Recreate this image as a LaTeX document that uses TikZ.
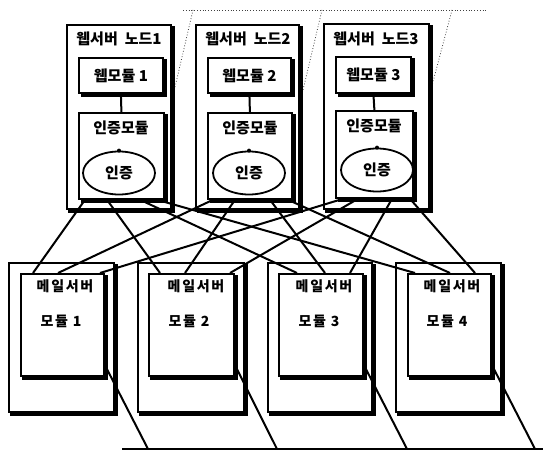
\documentclass[tikz,border=0pt]{standalone}
\usepackage{fontspec}
\newfontfamily\kr{Noto Sans CJK KR}
\newfontfamily\krs{Noto Sans CJK KR}[LetterSpace=12]
\usetikzlibrary{calc,shapes.geometric}
\newcommand{\boxshade}[2]{%
  \draw[line width=#2, line cap=rect] ($(#1.north east)+(1.5,4)$) -- ($(#1.south east)+(1.5,1.5)$) -- ($(#1.south west)+(4,1.5)$);}
\begin{document}
\begin{tikzpicture}[x=1pt,y=-1pt,
  box/.style={draw, line width=1.8pt, fill=white, rectangle, anchor=north west, inner sep=0pt},
  ttl/.style={font=\kr\bfseries\fontsize{15}{15}\selectfont, inner sep=0pt},
  lbl/.style={font=\kr\bfseries\fontsize{15}{15}\selectfont, inner sep=0pt},
  mlbl/.style={font=\krs\bfseries\fontsize{14}{14}\selectfont, inner sep=0pt},
  oval/.style={draw, ellipse, line width=1.8pt, fill=white, minimum width=72pt, minimum height=43pt, inner sep=0pt},
  link/.style={line width=2pt},
  dots/.style={dotted, line width=0.8pt, black!75},
  pin/.style={circle, fill=black, inner sep=0pt, minimum size=4pt}
]
\useasboundingbox (0,0) rectangle (543,454);
\fill[white] (0,0) rectangle (543,454);

% dotted perspective lines
\coordinate (dl) at (183,10);
\coordinate (dr) at (487,10);
\coordinate (d1t) at (193,10); \coordinate (d1b) at (165,130);
\coordinate (d2t) at (322,10); \coordinate (d2b) at (294,128);
\coordinate (d3t) at (452,10); \coordinate (d3b) at (421,127);
\draw[dots] (dl) -- (dr);
\draw[dots] (d1t) -- (d1b);
\draw[dots] (d2t) -- (d2b);
\draw[dots] (d3t) -- (d3b);

% web server nodes
\node[box, minimum width=104pt, minimum height=184pt] (n1) at (66,24) {};
\node[box, minimum width=103pt, minimum height=184pt] (n2) at (195,24) {};
\node[box, minimum width=105pt, minimum height=185pt] (n3) at (323,23) {};
\boxshade{n1}{4pt}\boxshade{n2}{4pt}\boxshade{n3}{4pt}

\node[ttl] (t1) at (119,39) {웹서버\hspace{7pt}노드1};
\node[ttl] (t2) at (248,39) {웹서버\hspace{7pt}노드2};
\node[ttl] (t3) at (376,39) {웹서버\hspace{7pt}노드3};

\node[box, minimum width=84pt, minimum height=35pt] (w1) at (78,57) {};
\node[box, minimum width=83pt, minimum height=35pt] (w2) at (207,57) {};
\node[box, minimum width=75pt, minimum height=36pt] (w3) at (335,56) {};
\boxshade{w1}{3pt}\boxshade{w2}{3pt}\boxshade{w3}{3pt}
\node[lbl] (wl1) at (w1.center) {웹모듈 1};
\node[lbl] (wl2) at (w2.center) {웹모듈 2};
\node[lbl] (wl3) at (w3.center) {웹모듈 3};

\node[box, minimum width=85pt, minimum height=86pt] (a1) at (78,112) {};
\node[box, minimum width=84pt, minimum height=86pt] (a2) at (207,112) {};
\node[box, minimum width=77pt, minimum height=87pt] (a3) at (335,110) {};
\boxshade{a1}{3pt}\boxshade{a2}{3pt}\boxshade{a3}{3pt}
\node[lbl] (al1) at (121,128) {인증모듈};
\node[lbl] (al2) at (250,128) {인증모듈};
\node[lbl] (al3) at (374,126) {인증모듈};

\draw[link] (w1.south) -- (a1.north);
\draw[link] (w2.south) -- (a2.north);
\draw[link] (w3.south) -- (a3.north);

\node[oval] (e1) at (119,173) {};
\node[oval] (e2) at (249,173) {};
\node[oval] (e3) at (377,170) {};
\node[lbl] (el1) at (e1.center) {인증};
\node[lbl] (el2) at (e2.center) {인증};
\node[lbl] (el3) at (e3.center) {인증};
\node[pin] (p1) at (e1.north) {};
\node[pin] (p2) at (e2.north) {};
\node[pin] (p3) at (e3.north) {};

% mail servers
\node[box, minimum width=105pt, minimum height=149pt] (o1) at (8,262) {};
\node[box, minimum width=106pt, minimum height=149pt] (o2) at (137,262) {};
\node[box, minimum width=104pt, minimum height=149pt] (o3) at (267,262) {};
\node[box, minimum width=105pt, minimum height=149pt] (o4) at (395,262) {};
\boxshade{o1}{4pt}\boxshade{o2}{4pt}\boxshade{o3}{4pt}\boxshade{o4}{4pt}

\node[box, minimum width=83pt, minimum height=102pt] (m1) at (20,273) {};
\node[box, minimum width=85pt, minimum height=102pt] (m2) at (148,273) {};
\node[box, minimum width=84pt, minimum height=102pt] (m3) at (278,273) {};
\node[box, minimum width=83pt, minimum height=102pt] (m4) at (407,273) {};
\boxshade{m1}{3.5pt}\boxshade{m2}{3.5pt}\boxshade{m3}{3.5pt}\boxshade{m4}{3.5pt}

\node[mlbl] (ma1) at (65,286) {메일서버};
\node[mlbl] (mb1) at (61,321) {모듈 1};
\node[mlbl] (ma2) at (196,286) {메일서버};
\node[mlbl] (mb2) at (189,321) {모듈 2};
\node[mlbl] (ma3) at (324,286) {메일서버};
\node[mlbl] (mb3) at (319,321) {모듈 3};
\node[mlbl] (ma4) at (452,286) {메일서버};
\node[mlbl] (mb4) at (447,321) {모듈 4};

% web -> mail links
\draw[link] ($(a1.south west)+(7,0)$)  -- ($(m1.north west)+(13,0)$);
\draw[link] ($(a1.south west)+(29,0)$) -- ($(m2.north west)+(12,0)$);
\draw[link] ($(a1.south west)+(62,0)$) -- ($(m3.north west)+(19,0)$);
\draw[link] ($(a1.south west)+(79,0)$) -- ($(m4.north west)+(8,0)$);

\draw[link] ($(a2.south west)+(6,0)$)  -- ($(m1.north west)+(38,0)$);
\draw[link] ($(a2.south west)+(28,0)$) -- ($(m2.north west)+(37,0)$);
\draw[link] ($(a2.south west)+(63,0)$) -- ($(m3.north west)+(47,0)$);
\draw[link] ($(a2.south west)+(81,0)$) -- ($(m4.north west)+(43,0)$);

\draw[link] ($(a3.south west)+(8,0)$)  -- ($(m1.north west)+(80,0)$);
\draw[link] ($(a3.south west)+(23,0)$) -- ($(m2.north west)+(82,0)$);
\draw[link] ($(a3.south west)+(57,0)$) -- ($(m3.north west)+(72,0)$);
\draw[link] ($(a3.south west)+(75,0)$) -- ($(m4.north west)+(68,0)$);

% bottom network
\coordinate (bl) at (122,449);
\coordinate (br) at (543,449);
\coordinate (b1) at (148,449);
\coordinate (b2) at (277,449);
\coordinate (b3) at (407,449);
\coordinate (b4) at (535,449);
\draw[link] (bl) -- (br);
\draw[link] ($(m1.south east)+(2,-8)$) -- (b1);
\draw[link] ($(m2.south east)+(2,-8)$) -- (b2);
\draw[link] ($(m3.south east)+(2,-8)$) -- (b3);
\draw[link] ($(m4.south east)+(2,-8)$) -- (b4);
\end{tikzpicture}
\end{document}
